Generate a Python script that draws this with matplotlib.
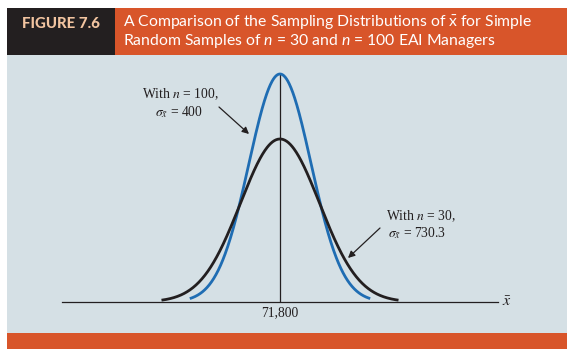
import numpy as np
import matplotlib.pyplot as plt

plt.rcParams['mathtext.fontset'] = 'custom'
plt.rcParams['mathtext.rm'] = 'Lato'
plt.rcParams['mathtext.it'] = 'Lato:italic'

# values in the figure
mean = 71800
n_sizes = [100, 30]
std_errors = [400, 730.3]
# the book does not draw the two curves to scale, so spread and peak height
# are read off the picture (blue n=100 first, black n=30 second)
drawn_sd = [575, 730.3]
peak = [1.0, 0.715]
span = [2.9, 3.0]
colors = ['#1f6db3', '#231f20']

orange = '#d8552a'
dark = '#231f20'
panel = '#d5e0e5'

W, H = 573, 356
fig = plt.figure(figsize=(W / 100, H / 100), dpi=100)

# pixel overlay for the frame, boxes and texts
bg = fig.add_axes([0, 0, 1, 1])
bg.set_xlim(0, W)
bg.set_ylim(H, 0)
bg.axis('off')

bg.add_patch(plt.Rectangle((7, 7.5), 108, 47, color=dark, lw=0))
bg.add_patch(plt.Rectangle((115, 7.5), 452, 47, color=orange, lw=0))
bg.add_patch(plt.Rectangle((7, 54.5), 560, 278.5, color=panel, lw=0))
bg.add_patch(plt.Rectangle((7, 333), 560, 16, color=orange, lw=0))

bg.text(61, 28.3, 'FIGURE 7.6', ha='center', va='baseline', family='Lato',
        weight='black', size=10.8, color='#f2c4a0')
title = ('A Comparison of the Sampling Distributions of $\\bar{\\mathrm{x}}$ for Simple\n'
         'Random Samples of $n$ = 30 and $n$ = 100 EAI Managers')
bg.text(122.7, 44.5, title, ha='left', va='baseline', family='Lato', size=11.3,
        color='white', linespacing=0.95)

# chart area, in data units
px = 730.3 / 39.5          # x units per pixel
py = 228.0                 # pixels per y unit
ax = fig.add_axes([7 / W, (H - 333) / H, 560 / W, 278.5 / H])
ax.set_xlim(mean + (7 - 280) * px, mean + (567 - 280) * px)
ax.set_ylim(-(333 - 302) / py, (302 - 54.5) / py)
ax.axis('off')

ax.axhline(0, xmin=(62 - 7) / 560, xmax=(498 - 7) / 560, color=dark, lw=0.9)
ax.vlines(mean, 0, max(peak) + 0.005, color=dark, lw=0.9)

for sd, pk, sp, c in zip(drawn_sd, peak, span, colors):
    x = np.linspace(mean - sp * sd, mean + sp * sd, 400)
    y = pk * np.exp(-0.5 * ((x - mean) / sd) ** 2)
    ax.plot(x, y, color=c, lw=2.0, solid_capstyle='butt')

serif = dict(family='Liberation Serif', math_fontfamily='stix', color=dark, size=9.8)
bg.text(280, 313, f'{mean:,}', ha='center', va='center', **serif)
bg.text(507, 302, r'$\bar{x}$', ha='center', va='center',
        family='Liberation Serif', math_fontfamily='stix', color=dark, size=11.5)

bg.text(180, 94, f'With $n$ = {n_sizes[0]},', ha='center', va='center', **serif)
bg.text(179, 112, r'$\sigma_{\bar{x}}$' + f' = {std_errors[0]:g}', ha='center', va='center', **serif)
bg.text(386, 216, f'With $n$ = {n_sizes[1]},', ha='left', va='center', **serif)
bg.text(388, 233, r'$\sigma_{\bar{x}}$' + f' = {std_errors[1]:g}', ha='left', va='center', **serif)

arrow = dict(arrowstyle='-|>', color=dark, lw=0.9, mutation_scale=10, shrinkA=0, shrinkB=0)
bg.annotate('', xy=(249, 134), xytext=(219, 107), arrowprops=arrow)
bg.annotate('', xy=(348, 258), xytext=(380, 228), arrowprops=arrow)

fig.savefig('out.png', dpi=100, facecolor='white')
